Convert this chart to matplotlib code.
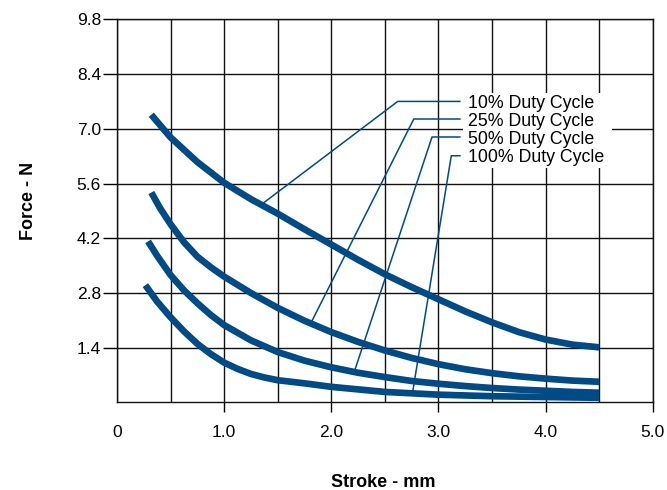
import numpy as np
import matplotlib
matplotlib.use("Agg")
import matplotlib.pyplot as plt
from matplotlib.patches import Rectangle

plt.rcParams['font.family'] = ['Liberation Sans', 'DejaVu Sans']

# curves (stroke mm, force N)
x10 = [0.32, 0.4, 0.5, 0.75, 1.0, 1.25, 1.5, 1.75, 2.0, 2.25, 2.5, 2.75, 3.0, 3.25, 3.5, 3.75, 4.0, 4.25, 4.5]
y10 = [7.36, 7.10, 6.78, 6.15, 5.62, 5.20, 4.83, 4.43, 4.04, 3.65, 3.28, 2.95, 2.64, 2.33, 2.05, 1.80, 1.61, 1.48, 1.41]

x25 = [0.32, 0.4, 0.5, 0.625, 0.75, 0.875, 1.0, 1.25, 1.5, 1.75, 2.0, 2.25, 2.5, 2.75, 3.0, 3.25, 3.5, 3.75, 4.0, 4.25, 4.5]
y25 = [5.37, 4.98, 4.56, 4.10, 3.73, 3.46, 3.22, 2.80, 2.42, 2.09, 1.80, 1.55, 1.33, 1.14, 0.98, 0.85, 0.75, 0.67, 0.61, 0.56, 0.53]

x50 = [0.29, 0.375, 0.5, 0.625, 0.75, 0.875, 1.0, 1.25, 1.5, 1.75, 2.0, 2.25, 2.5, 2.75, 3.0, 3.25, 3.5, 3.75, 4.0, 4.25, 4.5]
y50 = [4.12, 3.75, 3.26, 2.87, 2.54, 2.24, 1.98, 1.59, 1.29, 1.07, 0.90, 0.76, 0.65, 0.55, 0.48, 0.42, 0.37, 0.33, 0.30, 0.27, 0.25]

x100 = [0.265, 0.375, 0.5, 0.625, 0.75, 0.875, 1.0, 1.125, 1.25, 1.375, 1.5, 1.75, 2.0, 2.5, 3.0, 3.5, 4.0, 4.5]
y100 = [3.00, 2.58, 2.18, 1.82, 1.50, 1.24, 1.02, 0.86, 0.73, 0.64, 0.57, 0.49, 0.40, 0.27, 0.20, 0.16, 0.14, 0.12]

labels = ['10% Duty Cycle', '25% Duty Cycle', '50% Duty Cycle', '100% Duty Cycle']
# leader lines: point on curve, elbow, end
lead_x = [[1.37, 2.62, 3.20], [1.80, 2.77, 3.20], [2.22, 2.94, 3.20], [2.76, 3.12, 3.20]]
lead_y = [[5.11, 7.70, 7.70], [1.98, 7.25, 7.25], [0.83, 6.79, 6.79], [0.28, 6.31, 6.31]]

xticks = [0, 1, 2, 3, 4, 5]
xticklabels = ['0', '1.0', '2.0', '3.0', '4.0', '5.0']
yticks = [1.4, 2.8, 4.2, 5.6, 7.0, 8.4, 9.8]

blue = '#004a86'

fig = plt.figure(figsize=(6.67, 4.90), dpi=100)
ax = fig.add_axes([0.1754, 0.1786, 0.8032, 0.782])

for xs, ys in [(x10, y10), (x25, y25), (x50, y50), (x100, y100)]:
    ax.plot(xs, ys, color=blue, lw=4.8, solid_capstyle='butt', solid_joinstyle='round', zorder=4)

# white box behind the labels
ax.add_patch(Rectangle((3.23, 6.0), 1.39, 1.92, facecolor='white', edgecolor='none', zorder=2.5))

for lx, ly, lab in zip(lead_x, lead_y, labels):
    ax.plot(lx, ly, color=blue, lw=1.1, zorder=3)
    ax.text(3.277, ly[-1] - 0.17, lab, fontsize=12.8, va='baseline', ha='left', zorder=5)

ax.set_xlim(0, 5)
ax.set_ylim(0, 9.8)
ax.set_xticks(xticks)
ax.set_xticklabels(xticklabels)
ax.set_yticks(yticks)
ax.set_yticklabels([f'{v:.1f}' for v in yticks])
ax.set_xticks(np.arange(0.5, 5, 1.0), minor=True)
ax.tick_params(axis='x', which='major', length=7.5, width=1.0, pad=9, labelsize=12.5, direction='out')
ax.tick_params(axis='y', which='major', length=10, width=1.0, pad=1.5, labelsize=12.5, direction='out')
ax.tick_params(which='minor', length=0)
ax.xaxis.get_major_ticks()[0].tick1line.set_visible(False)
ax.grid(True, which='both', color='#111111', lw=1.0, zorder=1)
ax.set_axisbelow(True)
for s in ax.spines.values():
    s.set_linewidth(1.0)
    s.set_color('#111111')

fig.text(0.574, 0.006, 'Stroke - mm', fontsize=13, fontweight='bold', ha='center', va='baseline')
fig.text(0.050, 0.589, 'Force - N', fontsize=13, fontweight='bold', ha='center', va='baseline',
         rotation=90, rotation_mode='anchor')

plt.savefig('out.png', dpi=100)
